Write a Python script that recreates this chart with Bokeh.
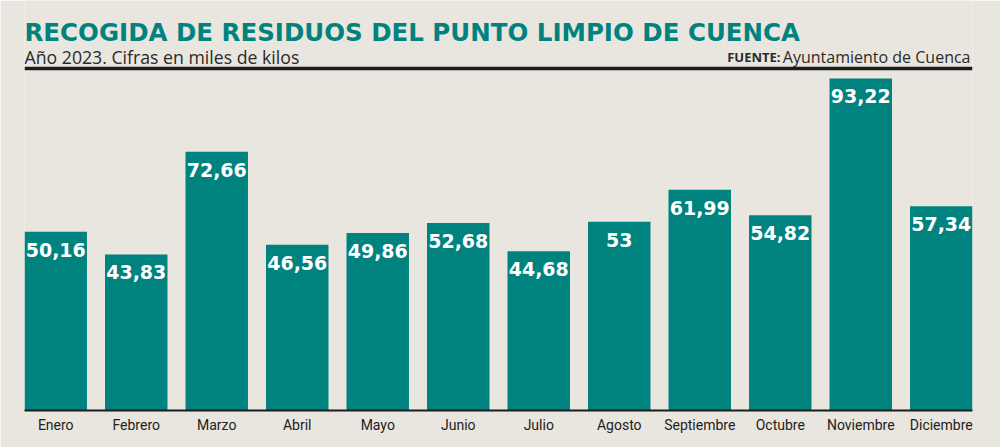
from bokeh.plotting import figure
from bokeh.models import Range1d, FixedTicker, Span, ColumnDataSource
from bokeh.core.properties import value
from bokeh.embed import file_html
from bokeh.resources import INLINE

months = ["Enero", "Febrero", "Marzo", "Abril", "Mayo", "Junio", "Julio",
          "Agosto", "Septiembre", "Octubre", "Noviembre", "Diciembre"]
values = [50.16, 43.83, 72.66, 46.56, 49.86, 52.68, 44.68, 53.0, 61.99, 54.82, 93.22, 57.34]
value_labels = ["50,16", "43,83", "72,66", "46,56", "49,86", "52,68", "44,68",
                "53", "61,99", "54,82", "93,22", "57,34"]

title_text = "RECOGIDA DE RESIDUOS DEL PUNTO LIMPIO DE CUENCA"
subtitle_text = "Año 2023. Cifras en miles de kilos"
source_bold = "FUENTE:"
source_text = "Ayuntamiento de Cuenca"

BG = "#e9e6df"
TEAL = "#00827f"
DARK = "#1c1c1c"
TXT = "#2a2a2a"

# layout (pixels)
W, H = 1000, 447
LEFT, RIGHT = 24, 972        # frame left / right edge
BOTTOM = 410                 # frame bottom (baseline of bars)
PX_PER_UNIT = 3.5615         # vertical scale
bw = 0.776                   # bar width in category units
n = len(months)
unit_px = (RIGHT - LEFT) / (n - 1 + bw)

y_end = BOTTOM / PX_PER_UNIT
x_start = -bw / 2
x_end = n - 1 + bw / 2


def ypix(py):
    """pixel row (from top of page) -> data y"""
    return (BOTTOM - py) / PX_PER_UNIT


def xpix(px):
    return x_start + (px - LEFT) / unit_px


idx = list(range(n))
src = ColumnDataSource(dict(x=idx, top=values, lab=value_labels))

p = figure(width=W, height=H, output_backend="svg", toolbar_location=None,
           x_range=Range1d(x_start, x_end), y_range=Range1d(0, y_end),
           min_border_left=LEFT, min_border_right=W - RIGHT, min_border_top=0,
           min_border_bottom=H - BOTTOM,
           background_fill_color=BG, border_fill_color=BG, outline_line_color=None)

p.vbar(x="x", top="top", width=bw, source=src, fill_color=TEAL, line_color=None)
p.text(x="x", y="top", text="lab", source=src, text_align="center",
       text_baseline="top", y_offset=11, text_color="white",
       text_font=value("DejaVu Sans"), text_font_style="bold", text_font_size="19px")

p.grid.visible = False
p.yaxis.visible = False

xa = p.xaxis[0]
xa.ticker = FixedTicker(ticks=idx)
xa.major_label_overrides = {i: m for i, m in zip(idx, months)}
xa.major_tick_line_color = None
xa.minor_tick_line_color = None
xa.major_tick_out = 0
xa.major_tick_in = 0
xa.axis_line_color = DARK
xa.axis_line_width = 2
xa.major_label_standoff = 6
xa.major_label_text_font = "Roboto"
xa.major_label_text_font_size = "14px"
xa.major_label_text_color = "#222222"

# rule under the header
p.add_layout(Span(location=ypix(68), dimension="width", line_color=DARK, line_width=3.5))

# header texts
p.text(x=[xpix(24)], y=[ypix(32)], text=[title_text], text_baseline="alphabetic",
       text_font=value("DejaVu Sans"), text_font_style="bold", text_font_size="24.5px",
       text_color=TEAL)
p.text(x=[xpix(24)], y=[ypix(56)], text=[subtitle_text], text_baseline="alphabetic",
       text_font=value("Open Sans"), text_font_size="17.7px", text_color=TXT)
p.text(x=[xpix(970)], y=[ypix(56)], text=[source_text], text_baseline="alphabetic",
       text_align="right", text_font=value("Open Sans"), text_font_size="16px",
       text_color=TXT)
p.text(x=[xpix(780)], y=[ypix(56)], text=[source_bold], text_baseline="alphabetic",
       text_align="right", text_font=value("Open Sans"), text_font_style="bold",
       text_font_size="13px", text_color=TXT)

html = file_html(p, INLINE)
html = html.replace("<body>", '<body style="margin:0;background-color:%s;">' % BG, 1)
open("out.html", "w").write(html)
